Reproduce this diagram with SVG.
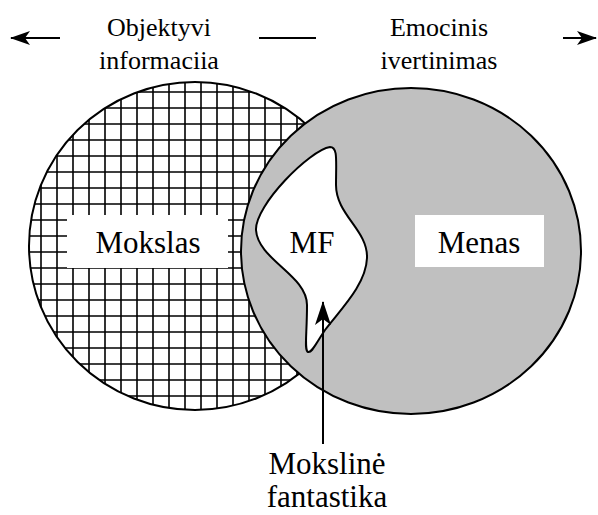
<svg xmlns="http://www.w3.org/2000/svg" width="598" height="515" viewBox="0 0 598 515">
<style>
  text { font-family: 'Liberation Serif', 'Times New Roman', serif; fill: #000; text-anchor: middle; }
  .top { font-size: 26px; }
  .lab { font-size: 31px; }
  .ln { stroke: #000; stroke-width: 2; fill: none; }
</style>
<defs>
  <pattern id="grid" patternUnits="userSpaceOnUse" x="1" y="4" width="16" height="16">
    <rect width="16" height="16" fill="#fff"/>
    <path d="M8 0V16M0 8H16" stroke="#000" stroke-width="1.6"/>
  </pattern>
  <marker id="ah" viewBox="0 0 20 14" refX="19" refY="7" markerWidth="20" markerHeight="14" markerUnits="userSpaceOnUse" orient="auto">
    <path d="M0 0L20 7L0 14L5 7Z" fill="#000"/>
  </marker>
  <marker id="ahv" viewBox="0 0 24 16" refX="23" refY="8" markerWidth="24" markerHeight="16" markerUnits="userSpaceOnUse" orient="auto">
    <path d="M0 0L24 8L0 16L6 8Z" fill="#000"/>
  </marker>
</defs>

<g id="header">
  <text class="top" x="159" y="36">Objektyvi</text>
  <text class="top" x="159" y="69">informaciia</text>
  <text class="top" x="439" y="36">Emocinis</text>
  <text class="top" x="439" y="69">ivertinimas</text>
</g>

<g id="connectors">
  <line class="ln" x1="60" y1="38" x2="11" y2="38" marker-end="url(#ah)"/>
  <line class="ln" x1="259" y1="38" x2="316" y2="38"/>
  <line class="ln" x1="563" y1="38" x2="596" y2="38" marker-end="url(#ah)"/>
</g>

<g id="mokslas">
  <ellipse cx="195" cy="246" rx="166" ry="164" fill="url(#grid)" stroke="#000" stroke-width="2"/>
  <rect x="67" y="215" width="161" height="53" fill="#fff"/>
  <text class="lab" x="148" y="253">Mokslas</text>
</g>

<g id="menas">
  <ellipse cx="411" cy="251" rx="170" ry="163" fill="#c0c0c0" stroke="#000" stroke-width="2"/>
  <rect x="415" y="215" width="129" height="52" fill="#fff"/>
  <text class="lab" x="479" y="253">Menas</text>
</g>

<g id="mf">
  <path d="M330 147 C338 147 336 160 336 185 C336 215 368 230 367 258 C366 285 340 310 325 330 C315 345 312 353 308 352 C304 350 307 335 307 305 C307 275 258 260 256 230 C255 205 310 150 330 147 Z" fill="#fff" stroke="#000" stroke-width="2"/>
  <text class="lab" x="312" y="253">MF</text>
</g>

<g id="moksline-fantastika">
  <line class="ln" x1="323" y1="444" x2="323" y2="302" marker-end="url(#ahv)"/>
  <text class="lab" x="327" y="474">Mokslinė</text>
  <text class="lab" x="327" y="507">fantastika</text>
</g>
</svg>
